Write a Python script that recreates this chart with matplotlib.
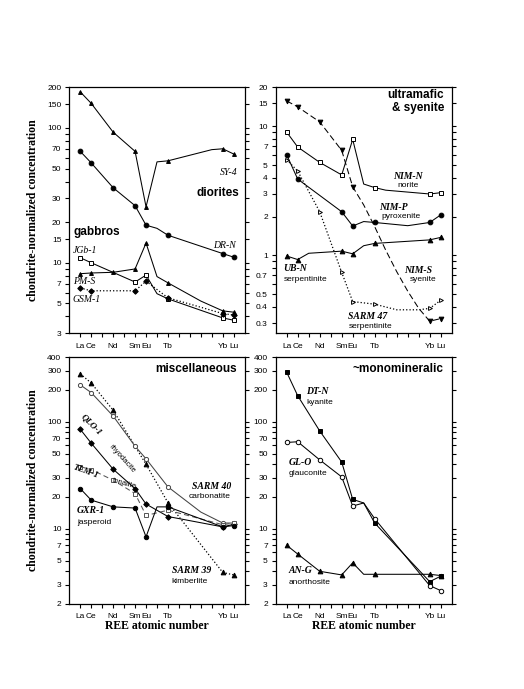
import numpy as np
import matplotlib
matplotlib.use("Agg")
import matplotlib.pyplot as plt
from matplotlib.ticker import FixedLocator, FixedFormatter, NullLocator

# ---------------- data ----------------
REE = {'La': 57, 'Ce': 58, 'Pr': 59, 'Nd': 60, 'Pm': 61, 'Sm': 62, 'Eu': 63, 'Gd': 64,
       'Tb': 65, 'Dy': 66, 'Ho': 67, 'Er': 68, 'Tm': 69, 'Yb': 70, 'Lu': 71}
x_tick_labels = ['La', 'Ce', '', 'Nd', '', 'Sm', 'Eu', '', 'Tb', '', '', '', '', 'Yb', 'Lu']

# -- diorites / gabbros --
sy4_el = ['La', 'Ce', 'Nd', 'Sm', 'Eu', 'Gd', 'Tb', 'Tm', 'Yb', 'Lu']
sy4_val = [185, 152, 93, 67, 26, 56, 57, 69, 70, 64]
sy4_mk = [1, 1, 1, 1, 1, 0, 1, 0, 1, 1]

drn_el = ['La', 'Ce', 'Nd', 'Sm', 'Eu', 'Gd', 'Tb', 'Yb', 'Lu']
drn_val = [67, 55, 36, 26.5, 19, 18, 16, 11.7, 11]
drn_mk = [1, 1, 1, 1, 1, 0, 1, 1, 1]

jgb1_el = ['La', 'Ce', 'Sm', 'Eu', 'Gd', 'Tb', 'Yb', 'Lu']
jgb1_val = [10.9, 10.0, 7.2, 8.1, 5.9, 5.4, 3.9, 3.75]
jgb1_mk = [1, 1, 1, 1, 0, 1, 1, 1]

pms_el = ['La', 'Ce', 'Nd', 'Sm', 'Eu', 'Gd', 'Tb', 'Er', 'Yb', 'Lu']
pms_val = [8.3, 8.4, 8.5, 9.0, 14.0, 7.9, 7.1, 5.2, 4.4, 4.3]
pms_mk = [1, 1, 1, 1, 1, 0, 1, 0, 1, 1]

gsm1_el = ['La', 'Ce', 'Sm', 'Eu', 'Tb', 'Yb', 'Lu']
gsm1_val = [6.5, 6.2, 6.2, 7.3, 5.5, 4.2, 4.1]
gsm1_mk = [1, 1, 1, 1, 1, 1, 1]

# -- ultramafic & syenite --
nims_el = ['La', 'Ce', 'Nd', 'Sm', 'Eu', 'Gd', 'Tb', 'Dy', 'Ho', 'Er', 'Tm', 'Yb', 'Lu']
nims_val = [15.7, 14.1, 10.8, 6.5, 3.4, 2.46, 1.67, 1.1, 0.75, 0.53, 0.39, 0.31, 0.325]
nims_mk = [1, 1, 1, 1, 1, 0, 0, 0, 0, 0, 0, 1, 1]

nimn_el = ['La', 'Ce', 'Nd', 'Sm', 'Eu', 'Gd', 'Tb', 'Dy', 'Yb', 'Lu']
nimn_val = [9.0, 6.9, 5.25, 4.2, 7.9, 3.57, 3.35, 3.2, 2.99, 3.06]
nimn_mk = [1, 1, 1, 1, 1, 0, 1, 0, 1, 1]

nimp_el = ['La', 'Ce', 'Sm', 'Eu', 'Gd', 'Tb', 'Er', 'Yb', 'Lu']
nimp_val = [6.0, 3.9, 2.18, 1.69, 1.83, 1.8, 1.7, 1.8, 2.06]
nimp_mk = [1, 1, 1, 1, 0, 1, 0, 1, 1]

ubn_el = ['La', 'Ce', 'Pr', 'Sm', 'Eu', 'Gd', 'Tb', 'Yb', 'Lu']
ubn_val = [0.99, 0.93, 1.04, 1.08, 1.03, 1.19, 1.24, 1.32, 1.38]
ubn_mk = [1, 1, 0, 1, 1, 0, 1, 1, 1]

sarm47_el = ['La', 'Ce', 'Nd', 'Sm', 'Eu', 'Tb', 'Ho', 'Tm', 'Yb', 'Lu']
sarm47_val = [5.5, 4.5, 2.18, 0.74, 0.44, 0.42, 0.38, 0.38, 0.39, 0.45]
sarm47_mk = [1, 1, 1, 1, 1, 1, 0, 0, 1, 1]

# -- miscellaneous --
sarm39_el = ['La', 'Ce', 'Nd', 'Eu', 'Tb', 'Yb', 'Lu']
sarm39_val = [280, 230, 128, 40, 17.5, 3.9, 3.7]
sarm39_mk = [1, 1, 1, 1, 1, 1, 1]

sarm40_el = ['La', 'Ce', 'Nd', 'Sm', 'Eu', 'Tb', 'Er', 'Yb', 'Lu']
sarm40_val = [221, 187, 113, 59, 45, 24.6, 14.3, 11.3, 11.3]
sarm40_mk = [1, 1, 1, 1, 1, 1, 0, 1, 1]

qlo1_el = ['La', 'Ce', 'Nd', 'Sm', 'Eu', 'Tb', 'Yb', 'Lu']
qlo1_val = [85, 63, 36, 23.7, 17, 13, 10.4, 11]
qlo1_mk = [1, 1, 1, 1, 1, 1, 1, 1]

tlm1_el = ['La', 'Ce', 'Nd', 'Sm', 'Eu', 'Tb', 'Yb', 'Lu']
tlm1_val = [38, 35.7, 28.4, 21.3, 13.3, 14.9, 10.9, 11.3]
tlm1_mk = [1, 1, 1, 1, 1, 1, 1, 1]

gxr1_el = ['La', 'Ce', 'Nd', 'Sm', 'Eu', 'Gd', 'Tb', 'Yb', 'Lu']
gxr1_val = [23.7, 18.5, 16, 15.6, 8.4, 16, 16, 10.4, 10.7]
gxr1_mk = [1, 1, 1, 1, 1, 0, 1, 1, 1]

# -- monomineralic --
dtn_el = ['La', 'Ce', 'Nd', 'Sm', 'Eu', 'Gd', 'Tb', 'Yb', 'Lu']
dtn_val = [290, 175, 82, 42, 18.8, 17.4, 11.3, 3.2, 3.6]
dtn_mk = [1, 1, 1, 1, 1, 0, 1, 1, 1]

glo_el = ['La', 'Ce', 'Nd', 'Sm', 'Eu', 'Gd', 'Tb', 'Yb', 'Lu']
glo_val = [64, 65, 44, 30.5, 16.3, 17.4, 12.4, 2.94, 2.64]
glo_mk = [1, 1, 1, 1, 1, 0, 1, 1, 1]

ang_el = ['La', 'Ce', 'Nd', 'Sm', 'Eu', 'Gd', 'Tb', 'Yb', 'Lu']
ang_val = [7.0, 5.8, 4.0, 3.7, 4.8, 3.75, 3.75, 3.75, 3.65]
ang_mk = [1, 1, 1, 1, 1, 0, 1, 1, 1]

# y tick labels per panel
yt_tl = [3, 5, 7, 10, 15, 20, 30, 50, 70, 100, 150, 200]
yt_tr = [0.3, 0.4, 0.5, 0.7, 1, 2, 3, 4, 5, 7, 10, 15, 20]
yt_b = [2, 3, 5, 7, 10, 20, 30, 50, 70, 100, 200, 300, 400]

# ---------------- styling ----------------
SERIF = ['Liberation Serif', 'DejaVu Serif']
SANS = ['Liberation Sans', 'DejaVu Sans']
plt.rcParams['font.family'] = SANS

fig = plt.figure(figsize=(5.24, 6.89), dpi=100)
W, H = 524.0, 689.0

def make_ax(left, top, width, height):
    return fig.add_axes([left / W, 1 - (top + height) / H, width / W, height / H])

ax_tl = make_ax(69.3, 87.3, 175.4, 246.0)
ax_tr = make_ax(275.7, 87.3, 176.0, 246.0)
ax_bl = make_ax(69.3, 357.3, 175.4, 246.2)
ax_br = make_ax(275.7, 357.3, 176.0, 246.2)


def all_log_ticks(lo, hi, extra):
    t = []
    d = 10.0 ** np.floor(np.log10(lo))
    while d <= hi:
        for m in range(1, 10):
            v = round(m * d, 6)
            if lo - 1e-9 <= v <= hi + 1e-9:
                t.append(v)
        d *= 10
    for e in extra:
        if e not in t:
            t.append(e)
    return sorted(t)


def fmt(v):
    if v >= 1:
        return '%d' % v
    return ('%g' % v)


def setup(ax, ylim, labels):
    ax.set_yscale('log')
    ax.set_xlim(56, 72)
    ax.set_ylim(*ylim)
    ticks = all_log_ticks(ylim[0], ylim[1], labels)
    ax.yaxis.set_major_locator(FixedLocator(ticks))
    ax.yaxis.set_minor_locator(NullLocator())
    ax.yaxis.set_major_formatter(FixedFormatter([fmt(t) if any(abs(t - l) < 1e-9 for l in labels) else '' for t in ticks]))
    ax.xaxis.set_major_locator(FixedLocator(list(range(57, 72))))
    ax.xaxis.set_major_formatter(FixedFormatter(x_tick_labels))
    ax.xaxis.set_minor_locator(NullLocator())
    ax.tick_params(axis='both', direction='out', length=3.2, width=0.8, labelsize=6, pad=2.5)
    ax.tick_params(axis='y', right=True, left=True)
    ax.tick_params(axis='x', pad=3.5)
    for s in ax.spines.values():
        s.set_linewidth(0.9)


def series(ax, el, val, mk, ls='-', color='black', marker='o', ms=3.2, mfc=None, lw=0.75, dashes=None):
    x = np.array([REE[e] for e in el], dtype=float)
    y = np.array(val, dtype=float)
    m = np.array(mk, dtype=bool)
    line, = ax.plot(x, y, ls=ls, color=color, lw=lw, zorder=2)
    if dashes is not None:
        line.set_dashes(dashes)
    ax.plot(x[m], y[m], ls='none', marker=marker, ms=ms, color=color,
            mfc=(mfc if mfc is not None else color), mec=color, mew=0.7, zorder=3)


def name(ax, x, y, s, ha='left', bold=False, rot=0, size=7):
    ax.text(x, y, s, ha=ha, va='center', fontsize=size, family=SERIF, style='italic',
            weight='bold' if bold else 'normal', rotation=rot, rotation_mode='anchor')


def desc(ax, x, y, s, ha='left', rot=0, size=6):
    ax.text(x, y, s, ha=ha, va='center', fontsize=size, family=SANS, rotation=rot,
            rotation_mode='anchor')


def title(ax, x, y, s, ha='right'):
    ax.text(x, y, s, ha=ha, va='center', fontsize=8.5, family=SANS, weight='bold',
            linespacing=1.0)

# ---- top-left: diorites & gabbros ----
setup(ax_tl, (3, 200), yt_tl)
series(ax_tl, sy4_el, sy4_val, sy4_mk, marker='^', ms=2.8)
series(ax_tl, drn_el, drn_val, drn_mk, marker='o', ms=3.4)
series(ax_tl, jgb1_el, jgb1_val, jgb1_mk, marker='s', ms=3.0, mfc='white')
series(ax_tl, pms_el, pms_val, pms_mk, marker='^', ms=2.8)
series(ax_tl, gsm1_el, gsm1_val, gsm1_mk, ls=':', marker='D', ms=2.8, lw=0.9)
name(ax_tl, 71.3, 47, 'SY-4', ha='right')
name(ax_tl, 71.2, 13.5, 'DR-N', ha='right')
title(ax_tl, 71.5, 33, 'diorites')
title(ax_tl, 56.4, 16.9, 'gabbros', ha='left')
name(ax_tl, 56.3, 12.4, 'JGb-1')
name(ax_tl, 56.3, 7.3, 'PM-S')
name(ax_tl, 56.3, 5.3, 'GSM-1')

# ---- top-right: ultramafic & syenite ----
setup(ax_tr, (0.25, 20), yt_tr)
series(ax_tr, nims_el, nims_val, nims_mk, marker='v', ms=3.4, dashes=(6, 3))
series(ax_tr, nimn_el, nimn_val, nimn_mk, marker='s', ms=3.0, mfc='white')
series(ax_tr, nimp_el, nimp_val, nimp_mk, marker='o', ms=3.4)
series(ax_tr, ubn_el, ubn_val, ubn_mk, marker='^', ms=3.4)
series(ax_tr, sarm47_el, sarm47_val, sarm47_mk, ls=':', marker='>', ms=2.8, mfc='white', lw=0.9)
ax_tr.text(71.3, 15.5, 'ultramafic\n& syenite', ha='right', va='center', fontsize=8.5,
           family=SANS, weight='bold', linespacing=1.05)
name(ax_tr, 68.0, 4.1, 'NIM-N', ha='center', bold=True)
desc(ax_tr, 68.0, 3.45, 'norite', ha='center')
name(ax_tr, 66.7, 2.34, 'NIM-P', ha='center', bold=True)
desc(ax_tr, 67.4, 1.99, 'pyroxenite', ha='center')
name(ax_tr, 56.7, 0.80, 'UB-N', bold=True)
desc(ax_tr, 56.7, 0.65, 'serpentinite')
name(ax_tr, 68.9, 0.77, 'NIM-S', ha='center', bold=True)
desc(ax_tr, 69.4, 0.65, 'syenite', ha='center')
name(ax_tr, 62.6, 0.34, 'SARM 47', bold=True)
desc(ax_tr, 62.6, 0.28, 'serpentinite')

# ---- bottom-left: miscellaneous ----
setup(ax_bl, (2, 400), yt_b)
series(ax_bl, sarm39_el, sarm39_val, sarm39_mk, ls=':', marker='^', ms=3.4, lw=0.9)
series(ax_bl, sarm40_el, sarm40_val, sarm40_mk, color='#444444', marker='o', ms=3.0, mfc='white')
series(ax_bl, qlo1_el, qlo1_val, qlo1_mk, marker='D', ms=2.8)
series(ax_bl, tlm1_el, tlm1_val, tlm1_mk, color='#555555', marker='s', ms=3.0, mfc='white', dashes=(5, 3))
series(ax_bl, gxr1_el, gxr1_val, gxr1_mk, marker='o', ms=3.2)
title(ax_bl, 71.3, 310, 'miscellaneous')
name(ax_bl, 58.05, 93, 'QLO-1', ha='center', bold=True, rot=-45, size=6.5)
desc(ax_bl, 60.8, 44.6, 'rhyodacite', ha='center', rot=-48, size=5.5)
name(ax_bl, 57.5, 33.9, 'TLM-1', ha='center', bold=True, rot=-20, size=6.5)
desc(ax_bl, 61.0, 26.4, 'tonalite', ha='center', rot=-15, size=5.5)
name(ax_bl, 56.7, 14.8, 'GXR-1', bold=True)
desc(ax_bl, 56.7, 11.5, 'jasperoid')
name(ax_bl, 67.2, 24.6, 'SARM 40', bold=True)
desc(ax_bl, 66.9, 19.8, 'carbonatite')
name(ax_bl, 65.35, 4.07, 'SARM 39', bold=True)
desc(ax_bl, 65.35, 3.22, 'kimberlite')

# ---- bottom-right: monomineralic ----
setup(ax_br, (2, 400), yt_b)
series(ax_br, dtn_el, dtn_val, dtn_mk, marker='s', ms=3.2)
series(ax_br, glo_el, glo_val, glo_mk, marker='o', ms=3.2, mfc='white')
series(ax_br, ang_el, ang_val, ang_mk, marker='^', ms=3.4)
title(ax_br, 71.3, 310, '~monomineralic')
name(ax_br, 58.8, 191, 'DT-N', bold=True)
desc(ax_br, 58.8, 151, 'kyanite')
name(ax_br, 57.2, 41.3, 'GL-O', bold=True)
desc(ax_br, 57.2, 33, 'glauconite')
name(ax_br, 57.2, 4.07, 'AN-G', bold=True)
desc(ax_br, 57.2, 3.16, 'anorthosite')

# ---- axis titles ----
for yc in (210.3, 480.4):
    fig.text(33 / W, 1 - yc / H, 'chondrite-normalized concentration', rotation=90,
             ha='center', va='center', fontsize=8.5, family=SERIF, weight='bold')
for xc in (157.0, 363.7):
    fig.text(xc / W, 1 - 626 / H, 'REE atomic number', ha='center', va='center',
             fontsize=8.5, family=SERIF, weight='bold')

fig.savefig('out.png', dpi=100)
